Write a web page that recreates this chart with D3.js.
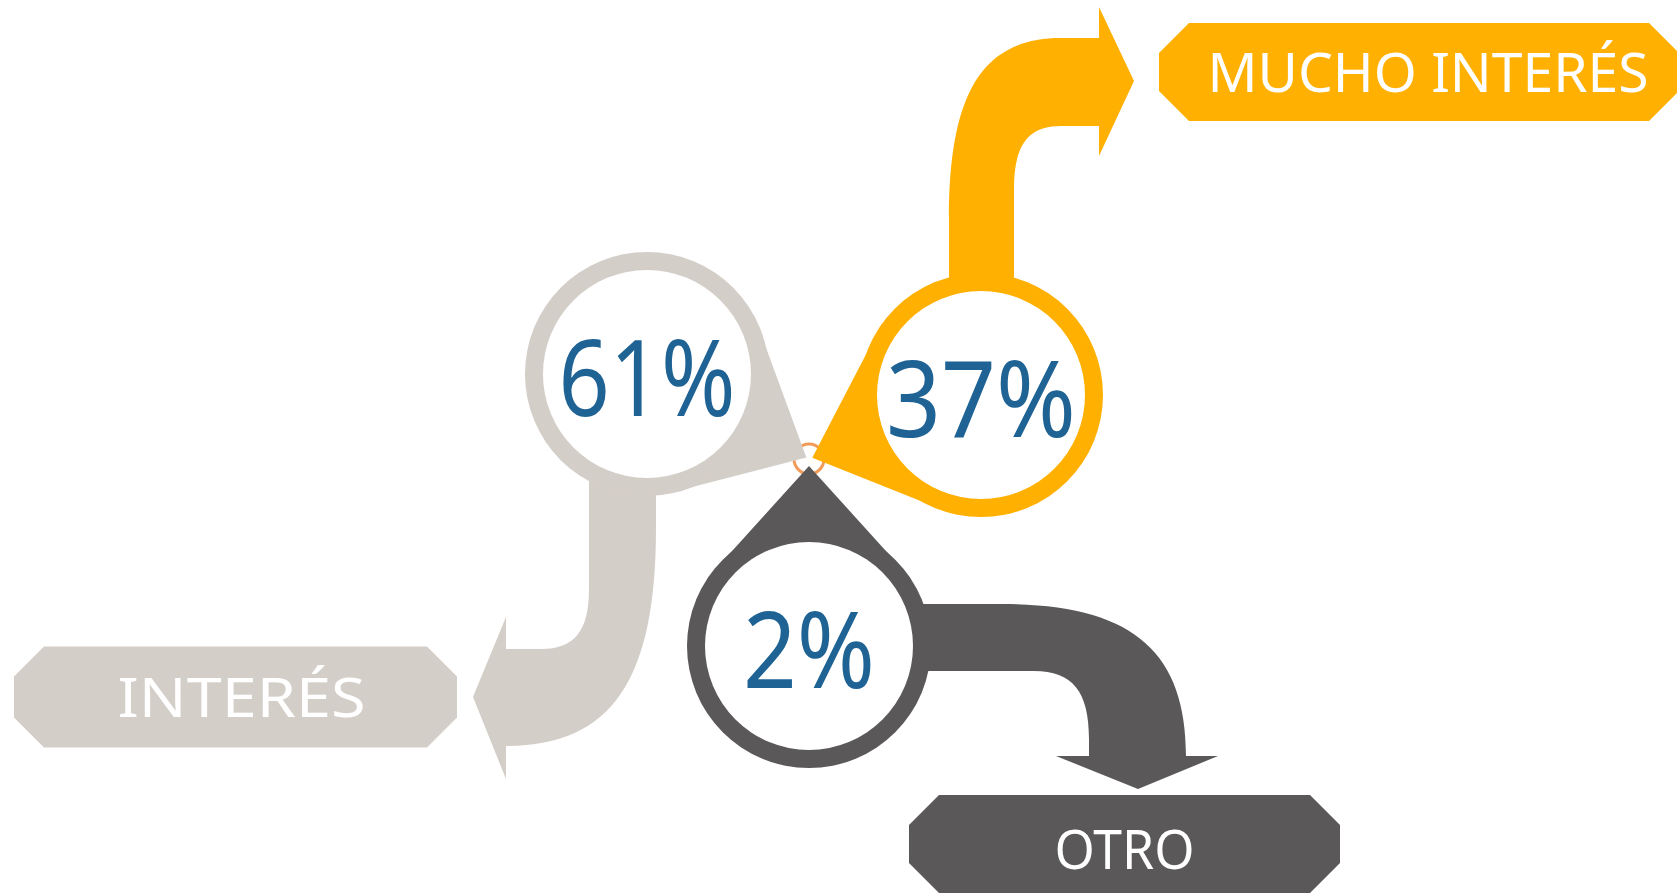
<!DOCTYPE html>
<html>
<head>
<meta charset="utf-8">
<script src="https://cdn.jsdelivr.net/npm/d3@7"></script>
<style>
  html, body { margin: 0; padding: 0; background: #fff; overflow: hidden; }
  svg { display: block; }
</style>
</head>
<body>
<svg id="chart"></svg>
<script>
// survey answers
const categories = ['INTERÉS', 'MUCHO INTERÉS', 'OTRO'];
const values = [61, 37, 2];
const colors = ['#d4cec8', '#ffb000', '#5a5859'];

const W = 1677, H = 894;
const hub = [809, 459];

// bubble placement around the hub (d3.pointRadial angle, degrees) and arrow/label geometry
const layout = [
  { ang: -62.3, dist: 183, u: [0, 1], v: [-1, 0],
    arrow: { start: 60, bo: -9, bi: 58, ao: 372, ai: 275, oc: [155, 141], ic: [106, 215], bh: 141, h0: 243, h1: 405, ta: 323, bt: 174 },
    box: { gap: 16, w: 443, h: 101, off: 0 }, tdx: 6, tdy: 0, tlen: 248, plen: 177 },
  { ang: 69.6, dist: 183.5, u: [0, -1], v: [1, 0],
    arrow: { start: 60, bo: -32, bi: 33, ao: 357, ai: 269, oc: [176, 80], ic: [80, 206], bh: 118, h0: 239, h1: 388, ta: 314, bt: 153 },
    box: { gap: 25, w: 520, h: 98, off: -9 }, tdx: 9, tdy: 0, tlen: 441, plen: 190 },
  { ang: 180, dist: 187, u: [1, 0], v: [0, 1],
    arrow: { start: 60, bo: -42, bi: 25, ao: 377, ai: 280, oc: [192, 110], ic: [93, 225], bh: 110, h0: 247, h1: 409, ta: 329, bt: 143 },
    box: { gap: 6, w: 431, h: 98, off: -13.5 }, tdx: 0, tdy: 5, tlen: 140, plen: 132 }
];

const rOuter = 122, rInner = 104, tipDist = 180, spread = 56;
const numFont = '"Comic Sans MS", "Noto Sans", "DejaVu Sans", sans-serif';

const svg = d3.select('#chart').attr('width', W).attr('height', H);
svg.append('rect').attr('width', W).attr('height', H).attr('fill', '#fff');

// little ring where the three drops meet
svg.append('circle')
  .attr('cx', hub[0]).attr('cy', hub[1]).attr('r', 15)
  .attr('fill', 'none').attr('stroke', '#f29b58').attr('stroke-width', 3);

const rad = d => d * Math.PI / 180;

function arrowPath(c, u, v, s) {
  const P = (a, b) => [c[0] + a * u[0] + b * v[0], c[1] + a * u[1] + b * v[1]];
  const k = 0.7;
  const p = d3.path();
  p.moveTo(...P(s.start, s.bo));
  p.lineTo(...P(s.oc[0], s.bo));
  p.bezierCurveTo(...P(s.oc[0] + k * (s.ao - s.oc[0]), s.bo),
    ...P(s.ao, s.oc[1] + k * (s.bo - s.oc[1])), ...P(s.ao, s.oc[1]));
  p.lineTo(...P(s.ao, s.bh));
  p.lineTo(...P(s.h1, s.bh));
  p.lineTo(...P(s.ta, s.bt));
  p.lineTo(...P(s.h0, s.bh));
  p.lineTo(...P(s.ai, s.bh));
  p.lineTo(...P(s.ai, s.ic[0]));
  p.bezierCurveTo(...P(s.ai, s.ic[0] + k * (s.bi - s.ic[0])),
    ...P(s.ic[1] + k * (s.ai - s.ic[1]), s.bi), ...P(s.ic[1], s.bi));
  p.lineTo(...P(s.start, s.bi));
  p.closePath();
  return { d: p.toString(), tip: P(s.ta, s.bt) };
}

function boxPath(x0, y0, w, h, ch) {
  const p = d3.path();
  p.moveTo(x0 + ch, y0);
  p.lineTo(x0 + w - ch, y0);
  p.lineTo(x0 + w, y0 + ch);
  p.lineTo(x0 + w, y0 + h - ch);
  p.lineTo(x0 + w - ch, y0 + h);
  p.lineTo(x0 + ch, y0 + h);
  p.lineTo(x0, y0 + h - ch);
  p.lineTo(x0, y0 + ch);
  p.closePath();
  return p.toString();
}

categories.forEach((cat, i) => {
  const L = layout[i];
  const off = d3.pointRadial(rad(L.ang), L.dist);
  const c = [hub[0] + off[0], hub[1] + off[1]];
  const g = svg.append('g');

  // curved arrow behind the drop
  const arr = arrowPath(c, L.u, L.v, L.arrow);
  g.append('path').attr('d', arr.d).attr('fill', colors[i]);

  // teardrop: circle plus wedge pointing at the hub
  const dir = Math.atan2(hub[1] - c[1], hub[0] - c[0]);
  const tip = [c[0] + tipDist * Math.cos(dir), c[1] + tipDist * Math.sin(dir)];
  const a1 = dir - rad(spread), a2 = dir + rad(spread);
  g.append('path')
    .attr('d', d3.line()([tip,
      [c[0] + rOuter * Math.cos(a1), c[1] + rOuter * Math.sin(a1)],
      c,
      [c[0] + rOuter * Math.cos(a2), c[1] + rOuter * Math.sin(a2)]]) + 'Z')
    .attr('fill', colors[i]);
  g.append('circle').attr('cx', c[0]).attr('cy', c[1]).attr('r', rOuter).attr('fill', colors[i]);
  g.append('circle').attr('cx', c[0]).attr('cy', c[1]).attr('r', rInner).attr('fill', '#fff');

  g.append('text')
    .attr('x', c[0]).attr('y', c[1] + 42)
    .attr('text-anchor', 'middle')
    .attr('font-family', numFont).attr('font-size', 106)
    .attr('fill', '#1f6395')
    .attr('textLength', L.plen).attr('lengthAdjust', 'spacingAndGlyphs')
    .text(values[i] + '%');

  // label box at the arrow head
  const b = L.box, t = arr.tip;
  let x0, y0;
  if (L.v[0] !== 0) {
    x0 = L.v[0] > 0 ? t[0] + b.gap : t[0] - b.gap - b.w;
    y0 = t[1] + b.off - b.h / 2;
  } else {
    y0 = L.v[1] > 0 ? t[1] + b.gap : t[1] - b.gap - b.h;
    x0 = t[0] + b.off - b.w / 2;
  }
  g.append('path').attr('d', boxPath(x0, y0, b.w, b.h, 30)).attr('fill', colors[i]);
  g.append('text')
    .attr('x', x0 + b.w / 2 + L.tdx).attr('y', y0 + b.h / 2 + 20 + L.tdy)
    .attr('text-anchor', 'middle')
    .attr('font-family', numFont).attr('font-size', 55)
    .attr('fill', '#fff')
    .attr('textLength', L.tlen).attr('lengthAdjust', 'spacingAndGlyphs')
    .text(cat);
});
</script>
</body>
</html>
